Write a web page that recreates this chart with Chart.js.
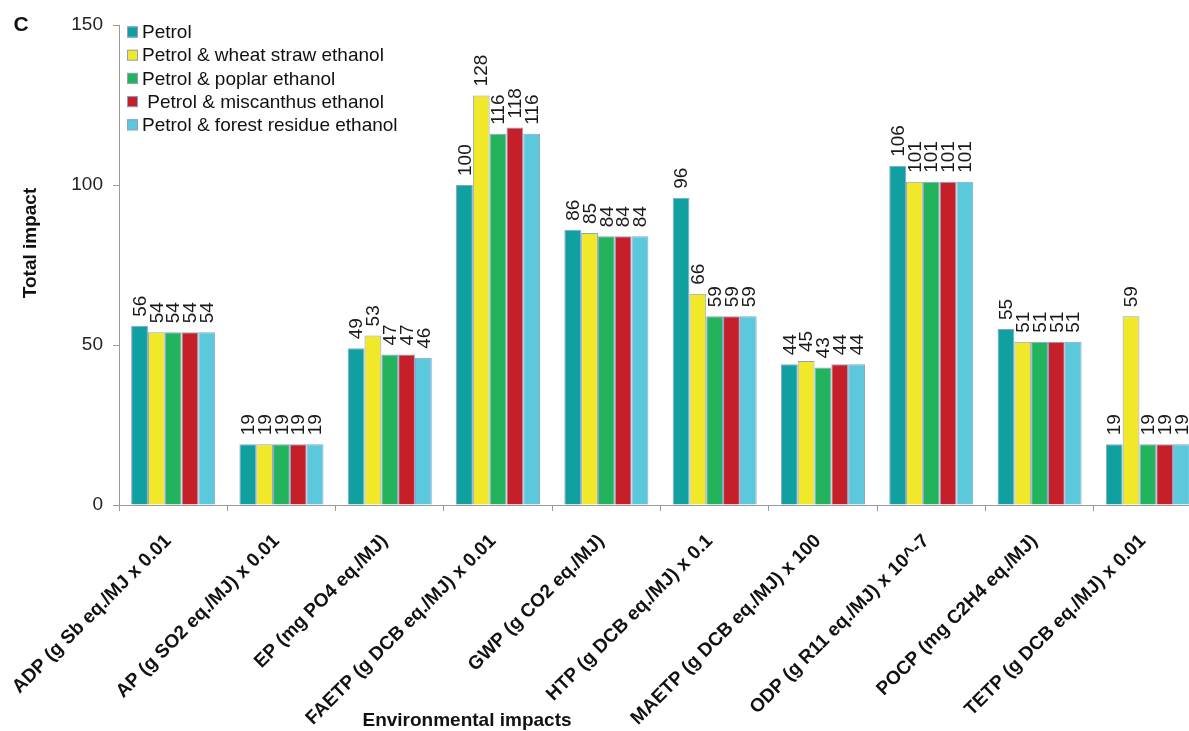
<!DOCTYPE html>
<html>
<head>
<meta charset="utf-8">
<title>Total impact by environmental impact category</title>
<script src="https://cdn.jsdelivr.net/npm/chart.js@4/dist/chart.umd.min.js"></script>
<style>
  html, body { margin: 0; padding: 0; background: #fff; overflow: hidden; }
  #wrap { width: 1210px; height: 731px; }
</style>
</head>
<body>
<div id="wrap"><canvas id="chart" width="1210" height="731"></canvas></div>
<script>
// Impact categories (x axis)
const categories = [
  "ADP (g Sb eq./MJ x 0.01",
  "AP (g SO2 eq./MJ) x 0.01",
  "EP (mg PO4 eq./MJ)",
  "FAETP (g DCB eq./MJ) x 0.01",
  "GWP (g CO2 eq./MJ)",
  "HTP (g DCB eq./MJ) x 0.1",
  "MAETP (g DCB eq./MJ) x 100",
  "ODP (g R11 eq./MJ) x 10^-7",
  "POCP (mg C2H4 eq./MJ)",
  "TETP (g DCB eq./MJ) x 0.01"
];

// Fuel scenarios
const seriesNames = [
  "Petrol",
  "Petrol & wheat straw ethanol",
  "Petrol & poplar ethanol",
  " Petrol & miscanthus ethanol",
  "Petrol & forest residue ethanol"
];

// Total impact per category, one array per scenario
const petrol       = [56, 19, 49, 100, 86, 96, 44, 106, 55, 19];
const wheatStraw   = [54, 19, 53, 128, 85, 66, 45, 101, 51, 59];
const poplar       = [54, 19, 47, 116, 84, 59, 43, 101, 51, 19];
const miscanthus   = [54, 19, 47, 118, 84, 59, 44, 101, 51, 19];
const forestResidue= [54, 19, 46, 116, 84, 59, 44, 101, 51, 19];

// Value axis ticks
const yTicks = [0, 50, 100, 150];

const seriesValues = [petrol, wheatStraw, poplar, miscanthus, forestResidue];
const seriesColors = ["#11a0a0", "#f2e82a", "#22b35c", "#c5202a", "#5cc8dc"];
const FONT = "'Liberation Sans', Arial, Helvetica, sans-serif";

// Vertical value labels above each bar
const barValueLabels = {
  id: "barValueLabels",
  afterDatasetsDraw(chart) {
    const ctx = chart.ctx;
    ctx.save();
    ctx.font = "19px " + FONT;
    ctx.fillStyle = "#1a1a1a";
    ctx.textAlign = "left";
    ctx.textBaseline = "middle";
    chart.data.datasets.forEach((ds, di) => {
      const meta = chart.getDatasetMeta(di);
      meta.data.forEach((bar, i) => {
        ctx.save();
        ctx.translate(bar.x, bar.y - 9);
        ctx.rotate(-Math.PI / 2);
        ctx.fillText(String(ds.data[i]), 0, 1);
        ctx.restore();
      });
    });
    ctx.restore();
  }
};

// Legend inside the plot, axis titles and panel letter
const annotations = {
  id: "annotations",
  afterDraw(chart) {
    const ctx = chart.ctx;
    const area = chart.chartArea;
    ctx.save();
    // legend
    ctx.font = "19px " + FONT;
    ctx.textAlign = "left";
    ctx.textBaseline = "middle";
    const lx = area.left + 8, ly0 = 32, step = 23.2, box = 11;
    chart.data.datasets.forEach((ds, i) => {
      const cy = ly0 + i * step;
      ctx.fillStyle = ds.backgroundColor;
      ctx.fillRect(lx, cy - box / 2, box, box);
      ctx.strokeStyle = "#8aa2c8";
      ctx.lineWidth = 1;
      ctx.strokeRect(lx + 0.5, cy - box / 2 + 0.5, box - 1, box - 1);
      ctx.fillStyle = "#111";
      ctx.fillText(ds.label, lx + box + 4, cy + 1);
    });
    // axis titles
    ctx.font = "bold 19px " + FONT;
    ctx.fillStyle = "#111";
    ctx.textAlign = "center";
    ctx.fillText("Environmental impacts", 467, 721);
    ctx.save();
    ctx.translate(31, 243);
    ctx.rotate(-Math.PI / 2);
    ctx.fillText("Total impact", 0, 0);
    ctx.restore();
    // panel letter
    ctx.font = "bold 21px " + FONT;
    ctx.fillText("C", 21, 25);
    ctx.restore();
  }
};

new Chart(document.getElementById("chart"), {
  type: "bar",
  data: {
    labels: categories,
    datasets: seriesNames.map((name, i) => ({
      label: name,
      data: seriesValues[i],
      backgroundColor: seriesColors[i],
      borderColor: "#8aa2c8",
      borderWidth: 1,
      barPercentage: 1.0,
      categoryPercentage: 0.776
    }))
  },
  options: {
    responsive: false,
    animation: false,
    devicePixelRatio: 1,
    layout: { padding: { top: 25, right: 8, left: 0, bottom: 0 } },
    plugins: {
      legend: { display: false },
      tooltip: { enabled: false }
    },
    scales: {
      x: {
        grid: { display: true, drawOnChartArea: false, offset: true, tickLength: 6, color: "#9a9a9a" },
        border: { color: "#9a9a9a", width: 1 },
        ticks: {
          minRotation: 45, maxRotation: 45, autoSkip: false,
          padding: 19,
          labelOffset: -5,
          color: "#111",
          font: { family: FONT, size: 19, weight: "bold" }
        },
        afterFit(axis) { axis.height = 226; axis.paddingLeft = 0; axis.paddingRight = 0; }
      },
      y: {
        min: yTicks[0], max: yTicks[yTicks.length - 1],
        afterBuildTicks(axis) { axis.ticks = yTicks.map(v => ({ value: v })); },
        grid: { display: true, drawOnChartArea: false, tickLength: 6, color: "#9a9a9a" },
        border: { color: "#9a9a9a", width: 1 },
        ticks: {
          padding: 10,
          color: "#222",
          font: { family: FONT, size: 19 }
        },
        afterFit(axis) { axis.width = 119; }
      }
    }
  },
  plugins: [barValueLabels, annotations]
});
</script>
</body>
</html>
